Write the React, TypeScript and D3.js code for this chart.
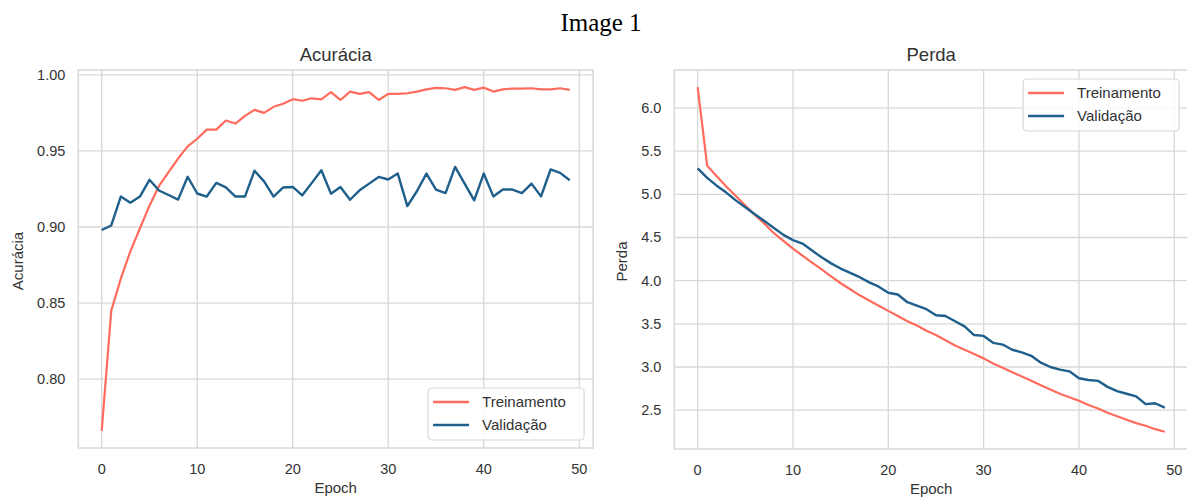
import React from "react";
import * as d3 from "d3";

const epochs = d3.range(50);

const accTrain = [
  0.766, 0.845, 0.866, 0.884, 0.899, 0.914, 0.927, 0.936, 0.945, 0.953,
  0.958, 0.964, 0.964, 0.97, 0.968, 0.973, 0.977, 0.975, 0.979, 0.981,
  0.984, 0.983, 0.9846, 0.9839, 0.9886, 0.9835, 0.989, 0.9875, 0.9886, 0.9835,
  0.9875, 0.9875, 0.9879, 0.989, 0.9905, 0.9914, 0.9912, 0.9901, 0.9919, 0.9901,
  0.9916, 0.989, 0.9905, 0.991, 0.991, 0.9912, 0.9905, 0.9905, 0.9912, 0.9901,
];
const accVal = [
  0.898, 0.901, 0.92, 0.916, 0.92, 0.931, 0.924, 0.921, 0.918, 0.933,
  0.922, 0.92, 0.929, 0.926, 0.92, 0.92, 0.937, 0.93, 0.92, 0.926,
  0.9263, 0.9208, 0.929, 0.9373, 0.9219, 0.9263, 0.9179, 0.9241, 0.9285, 0.9329,
  0.9312, 0.9351, 0.9137, 0.9235, 0.9351, 0.9246, 0.9223, 0.9395, 0.9285, 0.9175,
  0.9351, 0.9201, 0.9246, 0.9246, 0.9223, 0.9285, 0.9201, 0.9378, 0.9356, 0.9307,
];
const lossTrain = [
  6.24, 5.33, 5.21, 5.09, 4.98, 4.87, 4.76, 4.66, 4.55, 4.46,
  4.37, 4.29, 4.21, 4.13, 4.05, 3.97, 3.9, 3.83, 3.77, 3.71,
  3.65, 3.59, 3.53, 3.48, 3.42, 3.37, 3.31, 3.25, 3.2, 3.15,
  3.1, 3.04, 2.99, 2.94, 2.89, 2.84, 2.79, 2.74, 2.69, 2.65,
  2.61, 2.56, 2.52, 2.47, 2.43, 2.39, 2.35, 2.32, 2.28, 2.25,
];
const lossVal = [
  5.3, 5.19, 5.1, 5.02, 4.93, 4.85, 4.77, 4.69, 4.61, 4.53,
  4.47, 4.43, 4.35, 4.27, 4.2, 4.14, 4.09, 4.04, 3.98, 3.93,
  3.86, 3.84, 3.75, 3.71, 3.67, 3.6, 3.59, 3.53, 3.47, 3.37,
  3.36, 3.28, 3.26, 3.2, 3.17, 3.13, 3.05, 3.0, 2.97, 2.95,
  2.87, 2.85, 2.84, 2.77, 2.72, 2.69, 2.66, 2.57, 2.58, 2.53,
];

const xTicks = [0, 10, 20, 30, 40, 50];
const accTicks = [0.8, 0.85, 0.9, 0.95, 1.0];
const lossTicks = [2.5, 3.0, 3.5, 4.0, 4.5, 5.0, 5.5, 6.0];
const seriesNames = ["Treinamento", "Validação"];

const TRAIN = "#ff6b5c";
const VAL = "#1f5f8b";
const GRID = "#d8d8d8";
const TEXT = "#333";
const FONT = "'Liberation Sans', Arial, sans-serif";

type PanelProps = {
  left: number;
  right: number;
  top: number;
  bottom: number;
  title: string;
  ylabel: string;
  ylabelOffset: number;
  train: number[];
  val: number[];
  yTicks: number[];
  fmt: string;
  legendPos: "lower" | "upper";
};

// matplotlib-ish autoscale: 5% padding on each side
const padded = (lo: number, hi: number): [number, number] => {
  const r = hi - lo;
  return [lo - 0.05 * r, hi + 0.05 * r];
};

const Panel = (p: PanelProps) => {
  const x = d3
    .scaleLinear()
    .domain(padded(0, epochs.length - 1))
    .range([p.left, p.right]);
  const all = p.train.concat(p.val);
  const y = d3
    .scaleLinear()
    .domain(padded(d3.min(all)!, d3.max(all)!))
    .range([p.bottom, p.top]);
  const line = d3
    .line<number>()
    .x((_, i) => x(epochs[i]))
    .y((d) => y(d));
  const f = d3.format(p.fmt);
  const cx = (p.left + p.right) / 2;
  const cy = (p.top + p.bottom) / 2;

  const lw = 156;
  const lh = 52;
  const lx = p.right - 9 - lw;
  const ly = p.legendPos === "lower" ? p.bottom - 8 - lh : p.top + 9;

  return (
    <g fontFamily={FONT} fill={TEXT}>
      {xTicks.map((t) => (
        <line key={"gx" + t} x1={x(t)} x2={x(t)} y1={p.top} y2={p.bottom} stroke={GRID} strokeWidth={1.3} />
      ))}
      {p.yTicks.map((t) => (
        <line key={"gy" + t} x1={p.left} x2={p.right} y1={y(t)} y2={y(t)} stroke={GRID} strokeWidth={1.3} />
      ))}
      <rect x={p.left} y={p.top} width={p.right - p.left} height={p.bottom - p.top} fill="none" stroke={GRID} strokeWidth={1.5} />
      {xTicks.map((t) => (
        <text key={"tx" + t} x={x(t)} y={p.bottom + 26} textAnchor="middle" fontSize={14.5}>
          {t}
        </text>
      ))}
      {p.yTicks.map((t) => (
        <text key={"ty" + t} x={p.left - 13} y={y(t) + 5} textAnchor="end" fontSize={14.5}>
          {f(t)}
        </text>
      ))}
      <text x={cx} y={p.top - 9} textAnchor="middle" fontSize={18.5}>
        {p.title}
      </text>
      <text x={cx} y={p.bottom + 45} textAnchor="middle" fontSize={15}>
        Epoch
      </text>
      <text transform={`translate(${p.left - p.ylabelOffset},${cy + 2}) rotate(-90)`} textAnchor="middle" fontSize={15}>
        {p.ylabel}
      </text>
      <path d={line(p.train) || ""} fill="none" stroke={TRAIN} strokeWidth={2.2} strokeLinejoin="round" />
      <path d={line(p.val) || ""} fill="none" stroke={VAL} strokeWidth={2.4} strokeLinejoin="round" />
      <rect x={lx} y={ly} width={lw} height={lh} rx={4} fill="white" fillOpacity={0.85} stroke={GRID} strokeWidth={1.2} />
      {seriesNames.map((n, i) => (
        <g key={n}>
          <line x1={lx + 5} x2={lx + 41} y1={ly + 14 + i * 23} y2={ly + 14 + i * 23} stroke={i === 0 ? TRAIN : VAL} strokeWidth={2.4} />
          <text x={lx + 54} y={ly + 19 + i * 23} fontSize={15}>
            {n}
          </text>
        </g>
      ))}
    </g>
  );
};

export default function App() {
  return (
    <svg width={1187} height={497} style={{ position: "absolute", left: 0, top: 0, background: "white" }}>
      <text x={601} y={31} textAnchor="middle" fontFamily="'Liberation Serif', 'Times New Roman', serif" fontSize={25} fill="#000">
        Image 1
      </text>
      <Panel
        left={78.3}
        right={593.1}
        top={70}
        bottom={448}
        title="Acurácia"
        ylabel="Acurácia"
        ylabelOffset={55}
        train={accTrain}
        val={accVal}
        yTicks={accTicks}
        fmt=".2f"
        legendPos="lower"
      />
      <Panel
        left={674.3}
        right={1188.1}
        top={70}
        bottom={449}
        title="Perda"
        ylabel="Perda"
        ylabelOffset={47}
        train={lossTrain}
        val={lossVal}
        yTicks={lossTicks}
        fmt=".1f"
        legendPos="upper"
      />
    </svg>
  );
}
